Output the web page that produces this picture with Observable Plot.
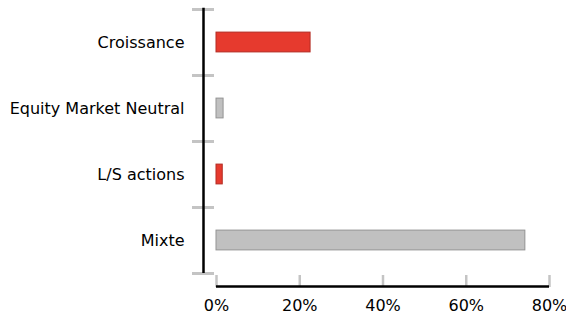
<!DOCTYPE html>
<html><head><meta charset="utf-8">
<script src="https://cdn.jsdelivr.net/npm/d3@7"></script>
<script src="https://cdn.jsdelivr.net/npm/@observablehq/plot@0.6"></script>
<style>body{margin:0;background:#fff} svg{display:block}</style>
</head><body><div id="chart"></div>
<script>
const categories = ["Croissance", "Equity Market Neutral", "L/S actions", "Mixte"];
const values = [22.6, 1.7, 1.5, 74.2];
const xTicks = [0, 20, 40, 60, 80];

const RED = "#e63a2e", RED_STROKE = "#b32b22", GRAY = "#c0c0c0", GRAY_STROKE = "#939393", TICK = "#c4c4c4";
const data = categories.map((c, i) => ({category: c, value: values[i], i,
  fill: i % 2 === 0 ? RED : GRAY, stroke: i % 2 === 0 ? RED_STROKE : GRAY_STROKE}));
const bounds = d3.range(categories.length + 1);
const centers = categories.map((c, i) => i + 0.5);

const chart = Plot.plot({
  width: 566, height: 315,
  marginLeft: 216, marginRight: 17, marginTop: 9, marginBottom: 42,
  style: {fontFamily: "DejaVu Sans", fontSize: "16px", background: "#fff", color: "#000"},
  x: {domain: [0, 80]},
  y: {domain: [0, categories.length], reverse: true},
  marks: [
    Plot.rectX(data, {x1: 0, x2: "value", y1: d => d.i + 0.35, y2: d => d.i + 0.65,
      fill: "fill", stroke: "stroke", strokeWidth: 1}),
    Plot.axisY(bounds, {tickSize: 22, dx: -2, stroke: TICK, strokeWidth: 3, tickFormat: () => "", label: null}),
    Plot.axisY(centers, {tickSize: 0, tickPadding: 32, tickFormat: v => categories[Math.floor(v)], fill: "#000", fontSize: 16, label: null}),
    Plot.ruleX([0], {y1: -0.02, y2: categories.length, dx: -13, stroke: "#000", strokeWidth: 2.5}),
    Plot.axisX(xTicks, {tickSize: 12, dy: 2, stroke: TICK, strokeWidth: 2.5, tickFormat: () => "", label: null}),
    Plot.axisX(xTicks, {tickSize: 0, tickPadding: 26, tickFormat: d => d + "%", fill: "#000", fontSize: 16, label: null}),
    Plot.ruleY([categories.length], {x1: 0, x2: 80, dy: 13, stroke: "#000", strokeWidth: 2.5})
  ]
});
document.getElementById("chart").appendChild(chart);
</script>
</body></html>
